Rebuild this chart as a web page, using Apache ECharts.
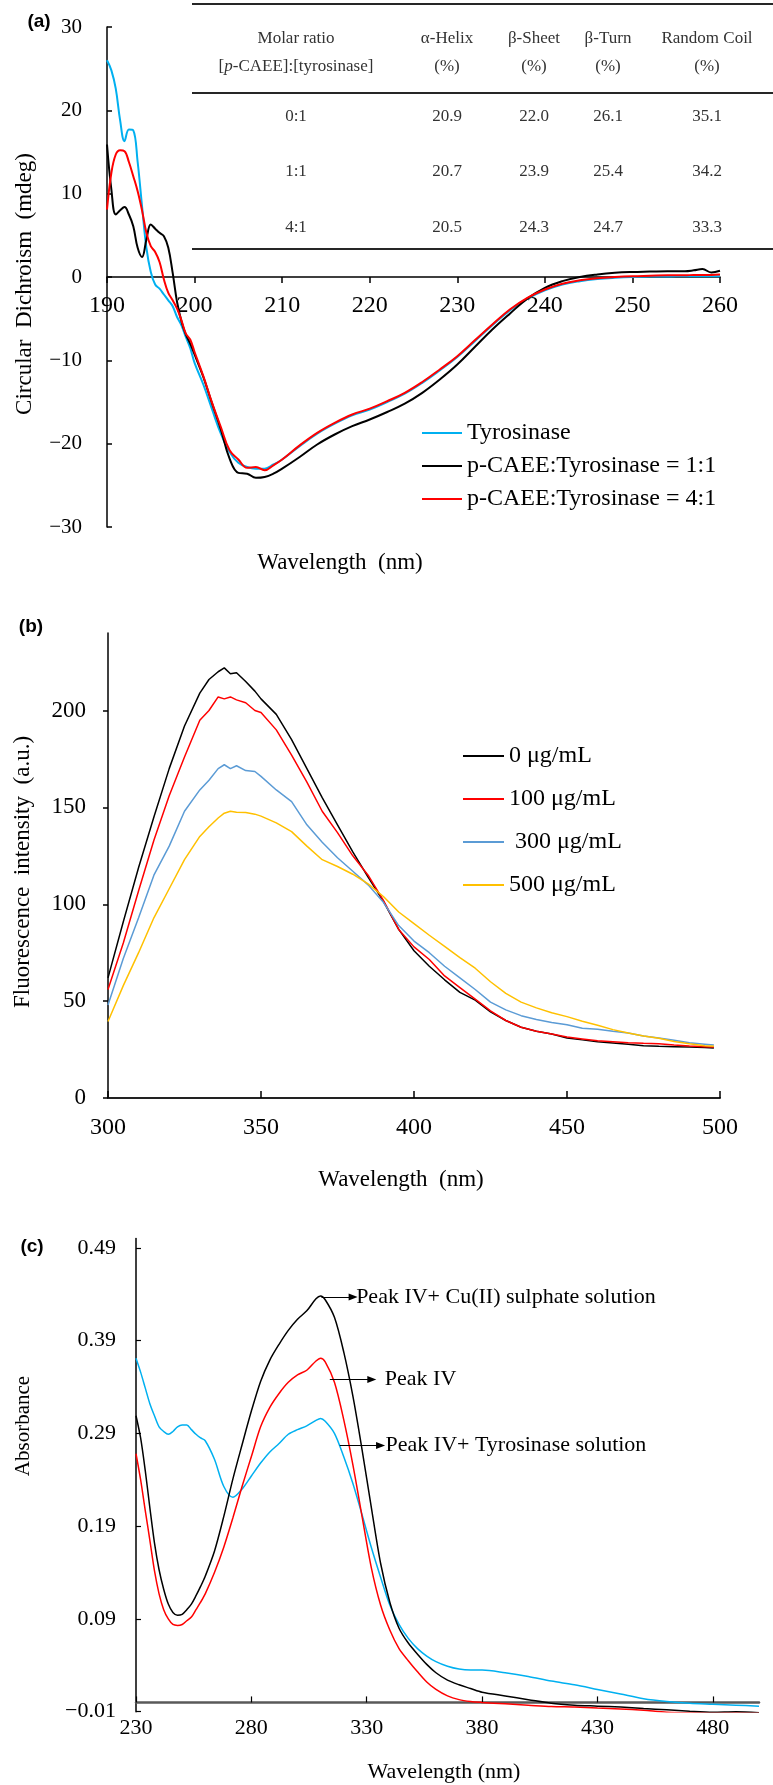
<!DOCTYPE html>
<html>
<head>
<meta charset="utf-8">
<script src="https://cdn.jsdelivr.net/npm/echarts@6/dist/echarts.min.js"></script>
<style>
	html, body { margin: 0; padding: 0; background: #fff; }
	#container { width: 773px; height: 1785px; }
</style>
</head>
<body>
<div id="container"></div>
<script>
var SERIF = '"Liberation Serif", "Times New Roman", serif';

// (a) CD spectra
var waveA = [190, 190.5, 191, 191.5, 192, 192.5, 193, 193.5, 194, 194.5, 195, 195.5, 196, 196.5, 197, 197.5, 198, 198.5, 199, 199.5, 200,
	201, 202, 203, 204, 205, 206, 207, 208, 209, 210, 212, 214, 216, 218, 220, 222, 224, 226, 228, 230, 232, 234, 236, 238, 240,
	242, 244, 246, 248, 250, 252, 254, 256, 257, 258, 259, 260];
var cdTyro = [26.0, 24.8, 22.6, 18.8, 16.3, 17.7, 17.6, 13.8, 8.5, 3.5, 0.6, -0.9, -1.4, -2.1, -2.8, -3.5, -4.8, -5.8, -7.2, -8.5, -10.3,
	-12.9, -15.9, -18.8, -21.0, -22.3, -22.8, -23.0, -23.0, -22.5, -21.9, -20.3, -18.8, -17.6, -16.6, -15.9, -15.0, -14.0, -12.7, -11.2, -9.6, -7.7, -5.8, -4.0, -2.6, -1.6,
	-0.9, -0.5, -0.25, -0.1, 0.0, 0.05, 0.05, 0.1, 0.1, 0.1, 0.1, 0.1];
var cd11 = [15.9, 10.5, 7.5, 8.0, 8.4, 7.5, 6.1, 3.5, 2.4, 4.5, 6.3, 5.8, 5.3, 4.9, 3.5, 0.5, -3.0, -5.3, -6.9, -8.0, -9.3,
	-12.0, -15.2, -18.3, -21.8, -23.5, -23.6, -24.1, -24.0, -23.6, -23.0, -21.6, -20.1, -18.9, -17.9, -17.1, -16.2, -15.2, -13.9, -12.3, -10.5, -8.4, -6.3, -4.4, -2.6, -1.3,
	-0.5, 0.0, 0.3, 0.5, 0.6, 0.65, 0.7, 0.7, 0.8, 0.95, 0.55, 0.75];
var cd41 = [8.1, 12.5, 14.7, 15.2, 15.1, 13.8, 12.1, 10.3, 8.0, 5.3, 3.7, 3.0, 1.8, -0.3, -1.9, -2.8, -3.8, -5.2, -6.8, -7.5, -9.0,
	-11.9, -15.1, -18.0, -20.8, -21.9, -22.9, -22.8, -23.2, -22.6, -21.9, -20.2, -18.7, -17.5, -16.5, -15.8, -14.9, -13.9, -12.6, -11.1, -9.5, -7.6, -5.7, -3.9, -2.5, -1.5,
	-0.8, -0.4, -0.15, 0.0, 0.1, 0.15, 0.2, 0.2, 0.25, 0.25, 0.25, 0.3];
var namesA = ['Tyrosinase', 'p-CAEE:Tyrosinase = 1:1', 'p-CAEE:Tyrosinase = 4:1'];

// secondary structure table
var tableHead1 = ['Molar ratio', 'α-Helix', 'β-Sheet', 'β-Turn', 'Random Coil'];
var tableHead2 = ['[{i|p}-CAEE]:[tyrosinase]', '(%)', '(%)', '(%)', '(%)'];
var tableRows = [
	['0:1', '20.9', '22.0', '26.1', '35.1'],
	['1:1', '20.7', '23.9', '25.4', '34.2'],
	['4:1', '20.5', '24.3', '24.7', '33.3']
];

// (b) fluorescence
var waveB = [300, 305, 310, 315, 320, 325, 330, 333, 336, 338, 340, 342, 345, 348, 350, 355, 360, 365, 370, 375, 380, 385, 390, 395,
	400, 405, 410, 415, 420, 425, 430, 435, 440, 445, 450, 455, 460, 465, 470, 475, 480, 485, 490, 495, 498];
var fl0 = [62, 91, 119, 145, 170, 192, 209, 216, 220, 222, 219, 219.5, 215, 210, 206, 198, 185, 170, 155, 141, 127, 114, 101.5, 87,
	76, 68, 61, 54.5, 50.5, 44.5, 40, 36.5, 34.5, 33, 31, 30, 29, 28.4, 27.7, 27, 26.7, 26.5, 26.3, 26, 25.8];
var fl100 = [56, 80, 107, 133, 156, 176, 195, 200, 207, 206, 207, 205.5, 204, 200, 199, 190, 177, 163, 148, 137, 125, 115, 102, 87,
	78, 71.5, 63, 57, 51, 45, 40, 36.5, 34.5, 33, 31.5, 30.5, 29.5, 29, 28.5, 28.2, 28, 27.3, 26.8, 26.5, 26.3];
var fl300 = [48, 72, 93, 115, 130, 148, 159, 164, 170, 172, 170, 171.5, 169, 168.5, 166, 159, 153, 141, 132, 124, 117, 110, 101, 89,
	81, 75, 68, 62, 56, 49.5, 45.5, 42.5, 40.5, 39, 37.8, 36, 35.5, 34.4, 33.5, 32, 31, 29.8, 28.5, 27.8, 27.3];
var fl500 = [39.5, 58, 75, 93, 108, 123, 135, 140, 144.5, 147, 148, 147.5, 147.3, 146.5, 145.5, 142, 137.5, 130, 123, 119.5, 115.5, 110.5, 104, 96,
	90, 84, 78.3, 72.5, 67, 60, 54, 49.5, 46.5, 44, 42, 39.6, 37.5, 35.3, 33.5, 32, 30.8, 29.2, 28, 27, 26.7];
var namesB = ['0 μg/mL', '100 μg/mL', ' 300 μg/mL', '500 μg/mL'];

// (c) absorbance
var waveC = [230, 232, 234, 236, 238, 240, 242, 244, 246, 248, 250, 252, 254, 256, 258, 260, 264, 268, 272, 276, 280, 284, 288, 292,
	296, 300, 304, 308, 310, 312, 316, 320, 324, 328, 332, 336, 340, 344, 348, 352, 356, 360, 365, 370, 375, 380, 390, 400,
	410, 420, 430, 440, 450, 460, 470, 480, 490, 500];
var absCu = [0.309, 0.285, 0.250, 0.210, 0.172, 0.143, 0.122, 0.106, 0.097, 0.094, 0.095, 0.100, 0.106, 0.115, 0.125, 0.136, 0.163, 0.200, 0.241, 0.278, 0.314, 0.346, 0.369, 0.386,
	0.401, 0.413, 0.422, 0.435, 0.438, 0.434, 0.415, 0.378, 0.330, 0.272, 0.210, 0.150, 0.108, 0.080, 0.064, 0.052, 0.041, 0.032, 0.024, 0.019, 0.015, 0.011, 0.007, 0.003,
	-0.001, -0.003, -0.004, -0.005, -0.0065, -0.008, -0.0095, -0.0105, -0.010, -0.011];
var absPeak = [0.268, 0.240, 0.207, 0.175, 0.142, 0.117, 0.100, 0.090, 0.084, 0.083, 0.084, 0.088, 0.092, 0.100, 0.108, 0.117, 0.140, 0.167, 0.199, 0.233, 0.265, 0.297, 0.318, 0.333,
	0.345, 0.353, 0.358, 0.368, 0.371, 0.367, 0.345, 0.305, 0.256, 0.200, 0.145, 0.105, 0.078, 0.058, 0.045, 0.033, 0.022, 0.014, 0.007, 0.003, 0.001, 0.000, -0.0015, -0.003,
	-0.0045, -0.005, -0.006, -0.007, -0.0085, -0.0105, -0.011, -0.011, -0.011, -0.011];
var absTyro = [0.371, 0.356, 0.339, 0.322, 0.309, 0.297, 0.292, 0.289, 0.292, 0.297, 0.299, 0.299, 0.294, 0.289, 0.285, 0.282, 0.262, 0.233, 0.221, 0.230, 0.244, 0.258, 0.270, 0.279,
	0.289, 0.294, 0.298, 0.304, 0.306, 0.303, 0.290, 0.265, 0.236, 0.202, 0.167, 0.135, 0.105, 0.084, 0.069, 0.058, 0.050, 0.044, 0.039, 0.036, 0.035, 0.035, 0.032, 0.028,
	0.023, 0.019, 0.014, 0.009, 0.004, 0.001, -0.001, -0.002, -0.003, -0.004];
var namesC = ['Peak IV+ Cu(II) sulphate solution', 'Peak IV', 'Peak IV+ Tyrosinase solution'];
// arrow annotations: [from wavelength, to wavelength, absorbance, label gap]
var arrowsC = [[310.4, 324.1, 0.437, 3], [314, 332.2, 0.348, 13], [318.3, 336, 0.277, 5]];

function pairs(xs, ys) {
	return xs.map(function (x, i) { return [x, ys[i]]; });
}

function minus(v) {
	return String(v).replace('-', '\u2212');
}

function lineSeries(name, xi, xs, ys, color, width, smooth) {
	return {
		name: name,
		type: 'line',
		xAxisIndex: xi,
		yAxisIndex: xi,
		data: pairs(xs, ys),
		symbol: 'none',
		smooth: smooth,
		lineStyle: { color: color, width: width },
		itemStyle: { color: color },
		z: 3
	};
}

function txt(x, y, text, size, opts) {
	opts = opts || {};
	return {
		type: 'text',
		x: x,
		y: y,
		rotation: opts.rot || 0,
		z: 10,
		style: {
			text: text,
			fontSize: size,
			fontFamily: opts.family || SERIF,
			fontWeight: opts.weight || 'normal',
			fill: opts.color || '#000',
			align: 'center',
			verticalAlign: 'middle',
			textAlign: 'center',
			textVerticalAlign: 'middle',
			rich: {
				i: { fontStyle: 'italic', fontSize: size, fontFamily: SERIF, fill: opts.color || '#000' }
			}
		}
	};
}

function hline(x1, x2, y, w, color) {
	return {
		type: 'line',
		z: 10,
		shape: { x1: x1, y1: y, x2: x2, y2: y },
		style: { stroke: color, lineWidth: w }
	};
}

var graphics = [];
// table
var colX = [296, 447, 534, 608, 707];
graphics.push(hline(192, 773, 4, 2, '#262626'));
graphics.push(hline(192, 773, 93, 2, '#262626'));
graphics.push(hline(192, 773, 249, 2, '#262626'));
colX.forEach(function (cx, c) {
	graphics.push(txt(cx, 39, tableHead1[c], 17, { color: '#333' }));
	graphics.push(txt(cx, 67, tableHead2[c], 17, { color: '#333' }));
	tableRows.forEach(function (row, r) {
		graphics.push(txt(cx, [117, 172, 228][r], row[c], 17, { color: '#333' }));
	});
});
// panel letters and axis titles
var SANS = '"Liberation Sans", Arial, sans-serif';
graphics.push(txt(39, 22, '(a)', 19, { family: SANS, weight: 'bold' }));
graphics.push(txt(31, 627, '(b)', 19, { family: SANS, weight: 'bold' }));
graphics.push(txt(32, 1247, '(c)', 19, { family: SANS, weight: 'bold' }));
graphics.push(txt(25, 284, 'Circular  Dichroism  (mdeg)', 23, { rot: Math.PI / 2 }));
graphics.push(txt(340, 563, 'Wavelength  (nm)', 23));
graphics.push(txt(23, 872, 'Fluorescence  intensity  (a.u.)', 23, { rot: Math.PI / 2 }));
graphics.push(txt(401, 1180, 'Wavelength  (nm)', 23));
graphics.push(txt(23, 1426, 'Absorbance', 21, { rot: Math.PI / 2 }));
graphics.push(txt(444, 1772, 'Wavelength (nm)', 22));

var seriesC = [
	lineSeries(namesC[2], 2, waveC, absTyro, '#00B0F0', 1.5, 0.3),
	lineSeries(namesC[1], 2, waveC, absPeak, '#FF0000', 1.5, 0.3),
	lineSeries(namesC[0], 2, waveC, absCu, '#000000', 1.5, 0.3)
];
// arrow for each curve of (c), drawn in data coordinates
[2, 1, 0].forEach(function (a, k) {
	var ar = arrowsC[a];
	seriesC[k].markLine = {
		silent: true,
		symbol: ['none', 'triangle'],
		symbolSize: [7, 9],
		lineStyle: { color: '#000', width: 1, type: 'solid' },
		label: {
			show: true,
			position: 'end',
			distance: ar[3],
			formatter: namesC[a],
			color: '#000',
			fontSize: 22,
			fontFamily: SERIF
		},
		data: [[{ coord: [ar[0], ar[2]] }, { coord: [ar[1], ar[2]] }]]
	};
});

var axisFont = { color: '#000', fontFamily: SERIF };

var option = {
	animation: false,
	backgroundColor: '#fff',
	grid: [
		{ left: 107, top: 27, width: 613, height: 500 },
		{ left: 108, top: 633, width: 612, height: 465 },
		{ left: 136, top: 1238.5, width: 623, height: 473.2 }
	],
	legend: [{
		data: namesA,
		orient: 'vertical',
		left: 422,
		top: 421,
		padding: 0,
		icon: 'rect',
		itemWidth: 40,
		itemHeight: 2,
		itemGap: 9,
		selectedMode: false,
		textStyle: { fontSize: 24, fontFamily: SERIF, color: '#000' }
	}, {
		data: namesB,
		orient: 'vertical',
		left: 463,
		top: 744,
		padding: 0,
		icon: 'rect',
		itemWidth: 41,
		itemHeight: 2,
		itemGap: 19,
		selectedMode: false,
		textStyle: { fontSize: 24, fontFamily: SERIF, color: '#000' }
	}],
	xAxis: [{
		// sits on the zero line: half the grid height above the bottom
		gridIndex: 0, type: 'value', min: 190, max: 260, interval: 10,
		offset: -250,
		axisLine: { onZero: false, lineStyle: { color: '#000', width: 1.5 } },
		axisTick: { inside: false, length: 6, lineStyle: { color: '#000', width: 1.5 } },
		axisLabel: Object.assign({ fontSize: 24, margin: 17 }, axisFont),
		splitLine: { show: false }
	}, {
		gridIndex: 1, type: 'value', min: 300, max: 500, interval: 50,
		axisLine: { lineStyle: { color: '#222', width: 2 } },
		axisTick: { inside: true, length: 7, lineStyle: { color: '#000', width: 1.5 } },
		axisLabel: Object.assign({ fontSize: 24, margin: 18 }, axisFont),
		splitLine: { show: false }
	}, {
		gridIndex: 2, type: 'value', min: 230, max: 500,
		axisLine: { onZero: true, lineStyle: { color: '#595959', width: 2.5 } },
		axisTick: { inside: true, length: 6, customValues: [230, 280, 330, 380, 430, 480], lineStyle: { color: '#000', width: 1.2 } },
		axisLabel: Object.assign({ fontSize: 22, margin: 6, customValues: [230, 280, 330, 380, 430, 480] }, axisFont),
		splitLine: { show: false }
	}],
	yAxis: [{
		gridIndex: 0, type: 'value', min: -30, max: 30, interval: 10,
		axisLine: { show: true, lineStyle: { color: '#000', width: 1.5 } },
		axisTick: { show: true, inside: true, length: 5, lineStyle: { color: '#000', width: 1.5 } },
		axisLabel: Object.assign({ fontSize: 21, margin: 25, formatter: minus }, axisFont),
		splitLine: { show: false }
	}, {
		gridIndex: 1, type: 'value', min: 0, max: 240,
		axisLine: { show: true, lineStyle: { color: '#000', width: 1.5 } },
		axisTick: { show: true, inside: false, length: 5, customValues: [0, 50, 100, 150, 200], lineStyle: { color: '#000', width: 1.5 } },
		axisLabel: Object.assign({ fontSize: 23, margin: 22, customValues: [0, 50, 100, 150, 200] }, axisFont),
		splitLine: { show: false }
	}, {
		gridIndex: 2, type: 'value', min: -0.01, max: 0.5,
		axisLine: { show: true, lineStyle: { color: '#000', width: 1.5 } },
		axisTick: { show: true, inside: true, length: 5, customValues: [-0.01, 0.09, 0.19, 0.29, 0.39, 0.49], lineStyle: { color: '#000', width: 1.2 } },
		axisLabel: Object.assign({
			fontSize: 22, margin: 20,
			customValues: [-0.01, 0.09, 0.19, 0.29, 0.39, 0.49],
			formatter: function (v) { return minus(v.toFixed(2)); }
		}, axisFont),
		splitLine: { show: false }
	}],
	graphic: graphics,
	series: [
		lineSeries(namesA[0], 0, waveA, cdTyro, '#00B0F0', 2, 0.4),
		lineSeries(namesA[1], 0, waveA, cd11, '#000000', 2, 0.4),
		lineSeries(namesA[2], 0, waveA, cd41, '#FF0000', 2, 0.4),
		lineSeries(namesB[0], 1, waveB, fl0, '#000000', 1.5, false),
		lineSeries(namesB[1], 1, waveB, fl100, '#FF0000', 1.5, false),
		lineSeries(namesB[2], 1, waveB, fl300, '#5B9BD5', 1.5, false),
		lineSeries(namesB[3], 1, waveB, fl500, '#FFC000', 1.5, false)
	].concat(seriesC)
};

var myChart = echarts.init(document.getElementById('container'), null, { renderer: 'canvas' });
myChart.setOption(option, true);
</script>
</body>
</html>
